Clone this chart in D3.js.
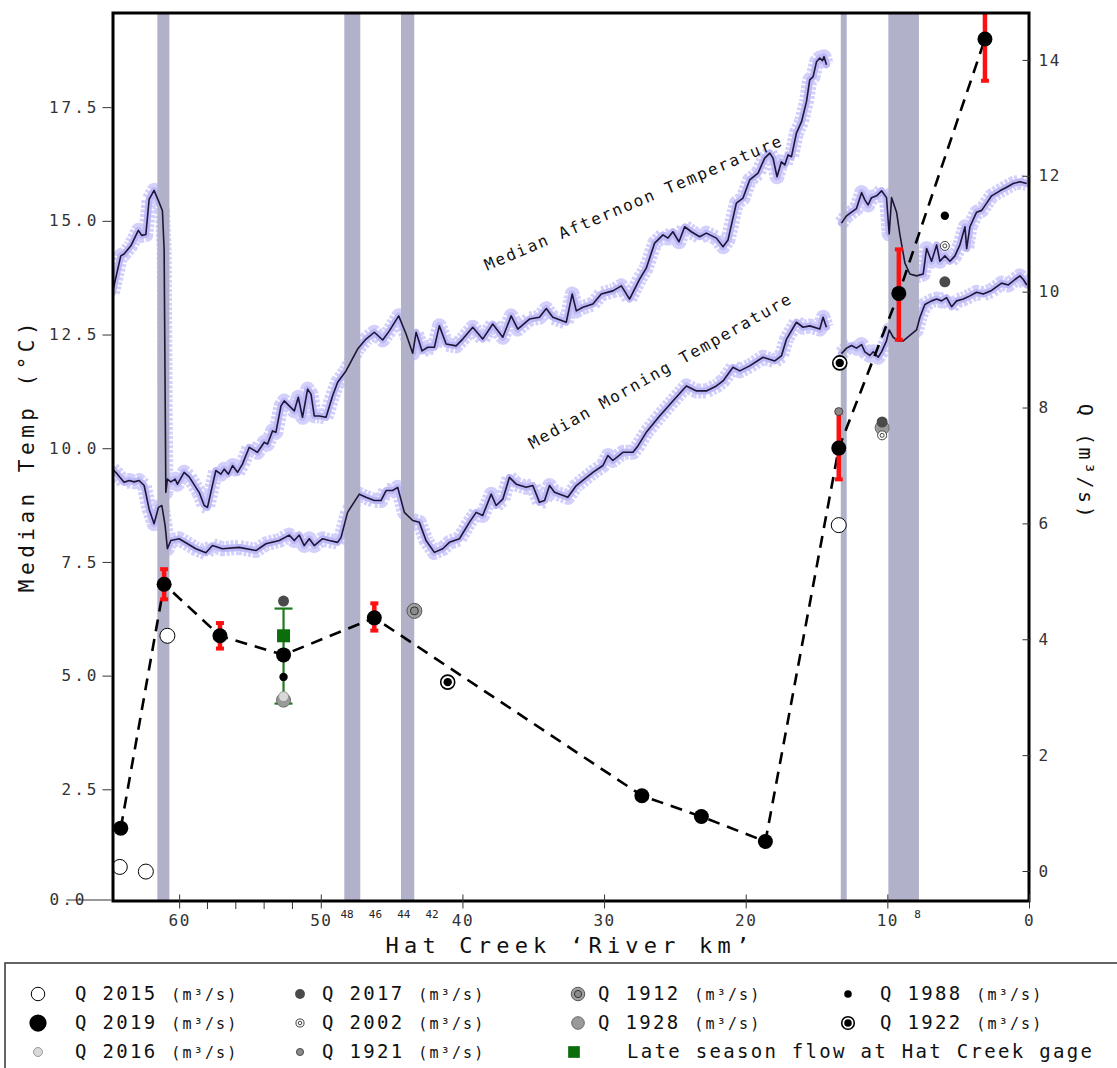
<!DOCTYPE html>
<html><head><meta charset="utf-8">
<script src="https://cdn.jsdelivr.net/npm/d3@7"></script>
<style>
html,body{margin:0;padding:0;background:#fff;}
svg text{font-family:"DejaVu Sans Mono",monospace;}
</style></head>
<body>
<svg id="chart" width="1117" height="1068"></svg>
<script>
// ---------------- DATA ----------------
// Median afternoon temperature (river km, °C) – upstream reach
const afternoonUpper = [[64.71,13.42],[64.12,14.23],[63.89,14.27],[63.41,14.45],[62.88,14.79],[62.64,14.68],[62.35,14.70],[62.12,15.47],[61.77,15.67],[61.46,15.44],[61.18,15.22],[61.06,14.37],[60.94,9.03],[60.83,9.32],[60.59,9.26],[60.28,9.32],[60.12,9.21],[59.65,9.47],[59.29,9.37],[58.82,9.14],[58.59,9.03],[58.23,8.74],[58.00,8.70],[57.76,9.03],[57.41,9.51],[57.05,9.43],[56.82,9.54],[56.52,9.43],[56.23,9.62],[55.88,9.47],[55.53,9.65],[55.05,10.02],[54.47,9.91],[53.99,10.13],[53.76,10.09],[53.41,10.38],[53.17,10.35],[52.81,10.93],[52.58,11.04],[52.23,10.93],[51.87,10.82],[51.59,11.12],[51.29,10.68],[50.93,11.30],[50.69,11.19],[50.46,10.71],[50.11,10.71],[49.63,10.68],[49.17,11.15],[48.81,11.45],[48.22,11.70],[47.40,12.18],[46.81,12.40],[46.22,12.55],[45.63,12.38],[45.16,12.58],[44.50,12.91],[43.98,12.51],[43.51,12.09],[43.27,12.55],[42.85,12.14],[42.45,12.22],[41.98,12.22],[41.63,12.69],[41.15,12.29],[40.45,12.25],[39.98,12.40],[39.27,12.66],[38.57,12.40],[37.86,12.73],[37.15,12.44],[36.56,12.91],[36.09,12.62],[35.27,12.84],[34.56,12.88],[34.08,13.07],[33.62,12.88],[32.67,12.77],[32.25,13.39],[31.96,13.02],[31.50,13.10],[30.79,13.17],[30.20,13.39],[29.38,13.46],[28.78,13.57],[28.20,13.28],[27.49,13.72],[27.02,13.96],[26.43,14.51],[25.84,14.69],[25.49,14.62],[25.14,14.76],[24.71,14.54],[24.31,14.87],[23.84,14.76],[23.25,14.65],[22.78,14.73],[22.07,14.62],[21.60,14.43],[21.25,14.58],[20.66,15.39],[20.19,15.50],[19.72,15.90],[19.13,16.05],[18.66,16.38],[18.30,16.49],[18.07,16.38],[17.79,15.97],[17.48,16.30],[17.24,16.23],[17.01,16.45],[16.77,16.41],[16.42,16.93],[16.06,17.18],[15.71,17.62],[15.48,18.10],[15.24,18.17],[15.00,18.50],[14.77,18.58],[14.58,18.52],[14.47,18.61],[14.30,18.43]];
// Median afternoon temperature – downstream reach
const afternoonLower = [[13.24,14.95],[12.88,15.11],[12.53,15.19],[12.18,15.27],[11.82,15.62],[11.59,15.46],[11.36,15.35],[11.12,15.51],[10.76,15.55],[10.41,15.66],[10.06,15.51],[9.87,14.71],[9.70,15.51],[9.35,15.19],[9.12,14.71],[8.76,14.07],[8.41,13.83],[7.94,13.79],[7.47,13.83],[7.23,14.39],[6.88,14.11],[6.52,14.47],[6.29,14.11],[5.94,14.23],[5.58,14.11],[5.23,14.23],[4.88,14.47],[4.52,14.87],[4.40,14.39],[4.17,14.87],[3.70,15.19],[3.34,15.23],[2.99,15.39],[2.64,15.55],[2.05,15.66],[1.58,15.74],[1.11,15.82],[0.64,15.86],[0.16,15.82]];
// Median morning temperature – upstream reach
const morningUpper = [[64.71,9.54],[64.36,9.43],[63.89,9.25],[63.53,9.29],[63.18,9.26],[62.83,9.29],[62.47,9.18],[62.12,8.66],[61.77,8.34],[61.46,8.70],[61.22,8.74],[60.99,8.30],[60.83,7.79],[60.59,7.97],[60.00,8.01],[59.41,7.90],[58.82,7.79],[58.11,7.70],[57.65,7.86],[56.94,7.79],[55.76,7.82],[54.58,7.75],[53.87,7.90],[52.93,7.97],[52.23,8.09],[51.87,7.97],[51.52,8.09],[51.17,7.86],[50.81,8.01],[50.46,7.86],[49.87,8.01],[49.40,7.97],[48.81,7.93],[48.57,8.04],[48.11,8.59],[47.28,8.99],[46.81,8.92],[46.22,8.85],[45.75,8.85],[45.39,9.07],[44.93,9.07],[44.57,9.14],[44.10,8.59],[43.51,8.41],[43.04,8.37],[42.57,7.97],[41.98,7.71],[41.39,7.79],[40.92,7.93],[40.21,8.01],[39.51,8.37],[39.03,8.59],[38.57,8.52],[37.97,8.99],[37.62,8.74],[37.15,8.88],[36.68,9.36],[36.20,9.21],[35.50,9.14],[35.03,9.18],[34.56,8.81],[34.20,8.85],[33.85,9.18],[33.50,9.03],[32.56,8.92],[31.96,9.18],[30.79,9.47],[30.08,9.62],[29.73,9.84],[29.38,9.73],[28.67,9.91],[27.96,9.91],[27.61,10.05],[27.02,10.35],[26.08,10.71],[25.14,11.04],[24.19,11.37],[23.48,11.26],[22.78,11.26],[22.07,11.37],[21.60,11.48],[20.90,11.78],[20.42,11.70],[19.72,11.81],[18.78,12.00],[17.95,11.92],[17.48,12.03],[17.12,12.40],[16.42,12.77],[15.95,12.66],[15.48,12.69],[14.77,12.62],[14.54,12.88],[14.30,12.66]];
// Median morning temperature – downstream reach
const morningLower = [[13.24,12.08],[12.88,12.20],[12.53,12.26],[12.18,12.20],[11.82,12.28],[11.59,12.12],[11.24,12.04],[11.00,12.12],[10.65,12.00],[10.41,12.12],[10.06,12.36],[9.87,12.60],[9.59,12.44],[9.24,12.36],[8.88,12.36],[8.41,12.48],[7.94,12.60],[7.70,12.88],[7.35,13.16],[6.88,13.24],[6.52,13.28],[6.17,13.24],[5.82,13.31],[5.46,13.11],[5.11,13.24],[4.64,13.28],[4.17,13.35],[3.70,13.43],[3.23,13.39],[2.64,13.47],[1.93,13.63],[1.46,13.59],[0.99,13.71],[0.64,13.79],[0.40,13.71],[0.16,13.59]];

// Shaded reaches (river km from, to)
const bands = [[61.54,60.69],[48.34,47.21],[44.34,43.40],[13.29,12.87],[9.93,7.77]];

// Discharge Q (river km, m³/s)
const q2019 = [[64.12,0.74],[61.06,4.95],[57.12,4.06],[52.63,3.73],[46.22,4.37],[27.33,1.30],[23.13,0.94],[18.61,0.51],[13.43,7.30],[9.19,9.97],[3.11,14.36]];
const q2019Err = [[61.06,4.69,5.21],[57.12,3.84,4.28],[46.22,4.15,4.62],[13.43,6.76,7.92],[9.19,9.17,10.73],[3.11,13.64,15.2]];
const q2015 = [[64.19,0.07],[62.35,-0.01],[60.83,4.06],[13.43,5.97]];
const q2017 = [[52.63,4.66],[10.37,7.75],[5.94,10.17]];
const q1928 = [[52.63,2.95],[10.37,7.65]];
const q2016 = [[52.63,3.01]];
const q2002 = [[10.37,7.52],[5.94,10.79]];
const q1921 = [[13.43,7.93]];
const q1912 = [[43.39,4.49]];
const q1988 = [[52.63,3.35],[5.94,11.31]];
const q1922 = [[41.04,3.26],[13.36,8.77]];
const lateSeason = [[52.63,4.06,2.89,4.53]]; // km, Q, low, high

// Ticks
const tempTicks = [0,2.5,5,7.5,10,12.5,15,17.5];
const qTicks = [0,2,4,6,8,10,12,14];
const kmTicks = [60,50,40,30,20,10,0];
const kmMinorTicks = [58,56,54,52];
const kmSmallLabels = [48,46,44,42,8];

const legendRows = [
  ["2015","2017","1912","1988"],
  ["2019","2002","1928","1922"],
  ["2016","1921","late",null]
];

// ---------------- CHART ----------------
const svg = d3.select("#chart");
const L=113, R=1029, T=13, B=901;
const x = d3.scaleLinear().domain([64.67,0]).range([L,R]);
const yT = d3.scaleLinear().domain([0,19.57]).range([903,T]);
const yQ = d3.scaleLinear().domain([0,14.81]).range([871,T]);

svg.append("defs").append("clipPath").attr("id","plotclip")
  .append("rect").attr("x",L).attr("y",T).attr("width",R-L).attr("height",B-T);
const plot = svg.append("g").attr("clip-path","url(#plotclip)");

const tLine = d3.line().x(d=>x(d[0])).y(d=>yT(d[1]));
const tempSeries = [afternoonUpper, afternoonLower, morningUpper, morningLower];

// scatter cloud (styling halo)
tempSeries.forEach(s=>{
  plot.append("path").attr("d",tLine(s)).attr("fill","none")
    .attr("stroke","#d3d1fb").attr("stroke-width",15).attr("stroke-linejoin","round")
    .attr("stroke-dasharray","3,1.6");
  plot.append("path").attr("d",tLine(s)).attr("fill","none")
    .attr("stroke","#bcb9f6").attr("stroke-width",7).attr("stroke-linejoin","round").attr("stroke-linecap","round")
    .attr("stroke-dasharray","3,1.2");
});

// bands
plot.selectAll("rect.band").data(bands).enter().append("rect")
  .attr("x",d=>x(d[0])).attr("width",d=>x(d[1])-x(d[0]))
  .attr("y",T).attr("height",B-T).attr("fill","#b1b2ca");

// median lines
tempSeries.forEach(s=>{
  plot.append("path").attr("d",tLine(s)).attr("fill","none")
    .attr("stroke","#1f1538").attr("stroke-width",1.6).attr("stroke-linejoin","round");
});

// dashed Q 2019 line
const qLine = d3.line().x(d=>x(d[0])).y(d=>yQ(d[1]));
plot.append("path").attr("d",qLine(q2019)).attr("fill","none")
  .attr("stroke","#000").attr("stroke-width",2.6).attr("stroke-dasharray","12,8");

// late season green bar
lateSeason.forEach(d=>{
  const cx=x(d[0]);
  plot.append("line").attr("x1",cx).attr("x2",cx).attr("y1",yQ(d[2])).attr("y2",yQ(d[3]))
    .attr("stroke","#1f7a1f").attr("stroke-width",2.2);
  [d[2],d[3]].forEach(v=>plot.append("line").attr("x1",cx-9).attr("x2",cx+9).attr("y1",yQ(v)).attr("y2",yQ(v))
    .attr("stroke","#1f7a1f").attr("stroke-width",2.2));
});

// red error bars
q2019Err.forEach(d=>{
  const cx=x(d[0]);
  plot.append("line").attr("x1",cx).attr("x2",cx).attr("y1",yQ(d[1])).attr("y2",yQ(d[2]))
    .attr("stroke","#ff1010").attr("stroke-width",4.5);
  [d[1],d[2]].forEach(v=>plot.append("rect").attr("x",cx-4).attr("y",yQ(v)-2).attr("width",8).attr("height",4).attr("fill","#ff1010"));
});

// marker painters
const mk = {
  "2015":(g,cx,cy,s)=>g.append("circle").attr("cx",cx).attr("cy",cy).attr("r",7.5*s).attr("fill","#fff").attr("stroke","#000").attr("stroke-width",1),
  "2019":(g,cx,cy,s)=>g.append("circle").attr("cx",cx).attr("cy",cy).attr("r",7.5*s).attr("fill","#000"),
  "2016":(g,cx,cy,s)=>g.append("circle").attr("cx",cx).attr("cy",cy).attr("r",5*s).attr("fill","#d8d8d8").attr("stroke","#888").attr("stroke-width",0.8),
  "2017":(g,cx,cy,s)=>g.append("circle").attr("cx",cx).attr("cy",cy).attr("r",5.5*s).attr("fill","#4a4a4a"),
  "2002":(g,cx,cy,s)=>{g.append("circle").attr("cx",cx).attr("cy",cy).attr("r",4.5*s).attr("fill","#fff").attr("stroke","#444").attr("stroke-width",1);
    g.append("circle").attr("cx",cx).attr("cy",cy).attr("r",2*s).attr("fill","#fff").attr("stroke","#444").attr("stroke-width",1);},
  "1921":(g,cx,cy,s)=>g.append("circle").attr("cx",cx).attr("cy",cy).attr("r",4*s).attr("fill","#8a8a8a").attr("stroke","#333").attr("stroke-width",0.8),
  "1912":(g,cx,cy,s)=>{g.append("circle").attr("cx",cx).attr("cy",cy).attr("r",7.5*s).attr("fill","#a0a0a0").attr("stroke","#555").attr("stroke-width",1);
    g.append("circle").attr("cx",cx).attr("cy",cy).attr("r",4*s).attr("fill","#8c8c8c").attr("stroke","#333").attr("stroke-width",1);},
  "1928":(g,cx,cy,s)=>g.append("circle").attr("cx",cx).attr("cy",cy).attr("r",7*s).attr("fill","#9a9a9a").attr("stroke","#6a6a6a").attr("stroke-width",1),
  "1988":(g,cx,cy,s)=>g.append("circle").attr("cx",cx).attr("cy",cy).attr("r",4.2*s).attr("fill","#000"),
  "1922":(g,cx,cy,s)=>{g.append("circle").attr("cx",cx).attr("cy",cy).attr("r",7*s).attr("fill","#fff").attr("stroke","#000").attr("stroke-width",1.6);
    g.append("circle").attr("cx",cx).attr("cy",cy).attr("r",4.2*s).attr("fill","#000");},
  "late":(g,cx,cy,s)=>g.append("rect").attr("x",cx-6.5*s).attr("y",cy-6.5*s).attr("width",13*s).attr("height",13*s).attr("fill","#0b6e0b")
};

const drawSet=(arr,key)=>arr.forEach(d=>mk[key](plot,x(d[0]),yQ(d[1]),1));
drawSet(q1928,"1928");
drawSet(q2016,"2016");
drawSet(q2017,"2017");
drawSet(q2002,"2002");
drawSet(q1921,"1921");
drawSet(q1912,"1912");
drawSet(q1922,"1922");
drawSet(q2015,"2015");
drawSet(lateSeason,"late");
drawSet(q2019,"2019");
drawSet(q1988,"1988");

// annotations
svg.append("text").attr("transform",`translate(${x(38.25)},${yT(13.9)}) rotate(-23)`)
  .attr("font-size",16).attr("letter-spacing",1.9).attr("fill","#111").text("Median Afternoon Temperature");
svg.append("text").attr("transform",`translate(${x(35.05)},${yT(9.98)}) rotate(-29.4)`)
  .attr("font-size",16).attr("letter-spacing",1.9).attr("fill","#111").text("Median Morning Temperature");

// frame
svg.append("rect").attr("x",L).attr("y",T).attr("width",R-L).attr("height",B-T)
  .attr("fill","none").attr("stroke","#000").attr("stroke-width",3);

// left axis
const ax = svg.append("g").attr("transform",`translate(${L-1.5},0)`)
  .call(d3.axisLeft(yT).tickValues(tempTicks).tickFormat(d3.format(".1f")).tickSize(9).tickPadding(3));
ax.select(".domain").remove();
ax.selectAll("text").attr("font-family","DejaVu Sans Mono").attr("font-size",16).attr("letter-spacing",3).attr("fill","#333");
ax.selectAll("line").attr("stroke","#333");
// the 0.0 tick runs through its label, slightly higher, at the frame bottom
ax.selectAll(".tick").filter(d=>d===0).attr("transform",`translate(0,${B-1})`)
  .call(g=>{g.select("line").attr("x2",-45);g.select("text").attr("x",-24);});

// right axis
const ar = svg.append("g").attr("transform",`translate(${R+1.5},0)`)
  .call(d3.axisRight(yQ).tickValues(qTicks).tickFormat(d3.format("d")).tickSize(-8).tickPadding(8));
ar.select(".domain").remove();
ar.selectAll("text").attr("font-family","DejaVu Sans Mono").attr("font-size",16).attr("letter-spacing",1.5).attr("fill","#333");
ar.selectAll("line").attr("stroke","#333");

// bottom axis
const ab = svg.append("g").attr("transform",`translate(0,${B+1.5})`)
  .call(d3.axisBottom(x).tickValues(kmTicks).tickFormat(d3.format("d")).tickSize(6).tickPadding(6));
ab.select(".domain").remove();
ab.selectAll("text").attr("font-family","DejaVu Sans Mono").attr("font-size",16).attr("letter-spacing",1.5).attr("fill","#333");
ab.selectAll("line").attr("stroke","#333").attr("y1",-8);
svg.append("g").selectAll("line").data(kmMinorTicks).enter().append("line")
  .attr("x1",d=>x(d)).attr("x2",d=>x(d)).attr("y1",B+1).attr("y2",B+8).attr("stroke","#333");
svg.append("g").selectAll("text").data(kmSmallLabels).enter().append("text")
  .attr("x",d=>x(d)+(d===8?2:-2)).attr("y",B+17).attr("text-anchor","middle")
  .attr("font-size",11).attr("fill","#222").text(d=>d);

// axis titles
svg.append("text").attr("transform","translate(34,455) rotate(-90)").attr("text-anchor","middle")
  .attr("font-size",21).attr("letter-spacing",4.5).attr("fill","#111").text("Median Temp (°C)");
svg.append("text").attr("transform","translate(1079,462) rotate(90)").attr("text-anchor","middle")
  .attr("font-size",20).attr("letter-spacing",2.5).attr("fill","#111").text("Q (m³/s)");
svg.append("text").attr("x",570).attr("y",953).attr("text-anchor","middle")
  .attr("font-size",22).attr("letter-spacing",5.2).attr("fill","#111").text("Hat Creek ‘River km’");

// legend
svg.append("rect").attr("x",5).attr("y",963).attr("width",1120).attr("height",110)
  .attr("fill","#fff").attr("stroke","#333").attr("stroke-width",1.5);
const colMarkerX=[38,300,578,848], colTextX=[75,322,598,880];
const rowY=[994,1023,1052];
const lg = svg.append("g");
legendRows.forEach((row,ri)=>row.forEach((key,ci)=>{
  if(!key) return;
  const mxp = (key==="late")?574:colMarkerX[ci];
  mk[key](lg,mxp,rowY[ri],key==="2019"?1.15:0.9);
  if(key==="late"){
    lg.append("text").attr("x",627).attr("y",rowY[ri]+6).attr("font-size",19).attr("letter-spacing",2.3)
      .attr("fill","#111").text("Late season flow at Hat Creek gage");
  } else {
    const tx = colTextX[ci];
    const t = lg.append("text").attr("x",tx).attr("y",rowY[ri]+6).attr("fill","#111");
    t.append("tspan").attr("font-size",19).attr("letter-spacing",2.3).text("Q "+key+" ");
    t.append("tspan").attr("font-size",15).attr("letter-spacing",2.2).text("(m³/s)");
  }
}));
</script>
</body></html>
